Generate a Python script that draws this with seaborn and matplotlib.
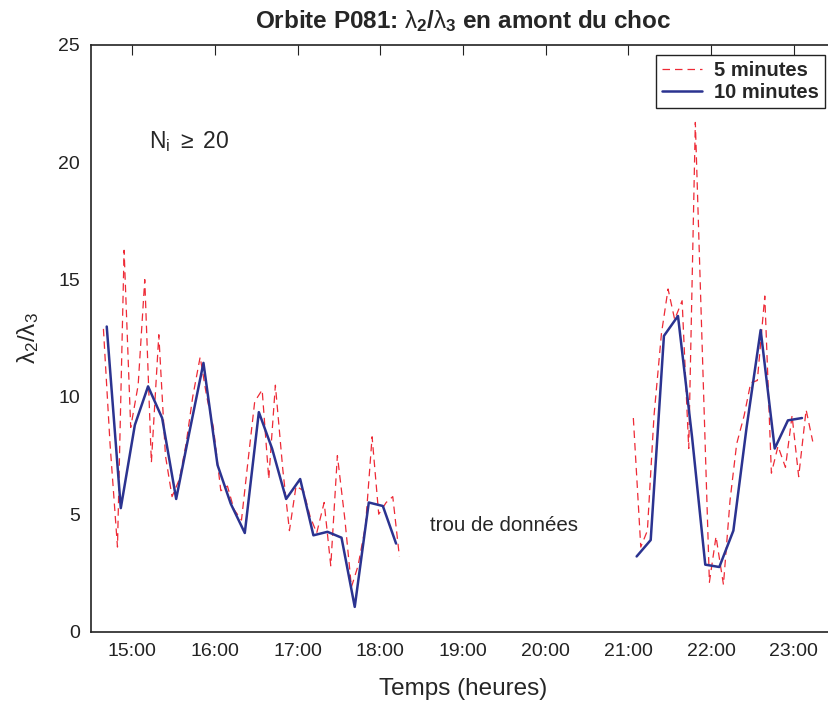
import numpy as np
import pandas as pd
import matplotlib
matplotlib.use('Agg')
import matplotlib.pyplot as plt
import seaborn as sns

# 5 minute values (red dashed), two segments around the data gap
t5_a = [14.65, 14.73, 14.82, 14.90, 14.98, 15.07, 15.15, 15.23, 15.32, 15.40,
        15.48, 15.57, 15.65, 15.73, 15.82, 15.90, 15.98, 16.07, 16.15, 16.23,
        16.32, 16.40, 16.48, 16.57, 16.65, 16.73, 16.82, 16.90, 16.98, 17.07,
        17.15, 17.23, 17.32, 17.40, 17.48, 17.57, 17.65, 17.73, 17.82, 17.90,
        17.98, 18.07, 18.15, 18.23]
r5_a = [12.9, 8.0, 3.6, 16.25, 8.7, 10.5, 15.0, 7.2, 12.65, 7.5,
        5.75, 6.5, 8.0, 10.0, 11.7, 10.0, 8.7, 6.0, 6.2, 5.2,
        4.75, 7.3, 9.8, 10.3, 6.5, 10.5, 6.9, 4.3, 6.2, 6.0,
        4.9, 4.2, 5.5, 2.8, 7.5, 4.8, 1.9, 2.8, 4.5, 8.3,
        5.0, 5.5, 5.75, 3.2]
t5_b = [21.06, 21.15, 21.23, 21.31, 21.40, 21.48, 21.56, 21.65, 21.73, 21.81,
        21.90, 21.98, 22.06, 22.15, 22.23, 22.31, 22.40, 22.48, 22.56, 22.65,
        22.73, 22.81, 22.90, 22.98, 23.06, 23.15, 23.23]
r5_b = [9.1, 3.6, 4.3, 9.2, 12.7, 14.6, 13.3, 14.1, 7.8, 21.7,
        11.3, 2.1, 4.05, 2.0, 5.6, 8.0, 9.2, 10.6, 10.7, 14.3,
        6.75, 7.9, 7.0, 9.2, 6.6, 9.45, 8.1]

# 10 minute values (blue)
t10_a = [14.69, 14.86, 15.03, 15.19, 15.36, 15.53, 15.69, 15.86, 16.03, 16.19,
         16.36, 16.53, 16.69, 16.86, 17.03, 17.19, 17.36, 17.53, 17.69, 17.86,
         18.03, 18.19]
r10_a = [13.0, 5.26, 8.8, 10.45, 9.1, 5.65, 8.5, 11.45, 7.1, 5.45,
         4.2, 9.35, 7.8, 5.65, 6.5, 4.1, 4.25, 4.0, 1.05, 5.5,
         5.35, 3.75]
t10_b = [21.10, 21.27, 21.43, 21.60, 21.77, 21.93, 22.10, 22.27, 22.43, 22.60,
         22.77, 22.93, 23.10]
r10_b = [3.2, 3.9, 12.6, 13.45, 8.3, 2.85, 2.75, 4.3, 8.7, 12.85,
         7.8, 9.0, 9.1]

hour_ticks = [15, 16, 17, 18, 19, 20, 21, 22, 23]
hour_labels = ['15:00', '16:00', '17:00', '18:00', '19:00', '20:00',
               '21:00', '22:00', '23:00']
y_ticks = [0, 5, 10, 15, 20, 25]

sns.set_style('white')
plt.rcParams['font.family'] = ['Liberation Sans', 'DejaVu Sans']
plt.rcParams['mathtext.fontset'] = 'custom'
plt.rcParams['mathtext.rm'] = 'Liberation Sans'
plt.rcParams['mathtext.it'] = 'Liberation Sans'
plt.rcParams['mathtext.bf'] = 'Liberation Sans:bold'

red = '#ee2a36'
blue = '#2b3390'

fig = plt.figure(figsize=(8.29, 7.02), dpi=100)
# right spine falls just outside the picture, as in the reference
ax = fig.add_axes([0.1098, 0.1004, 0.8975, 0.8355])

df5 = pd.concat([pd.DataFrame({'t': t5_a, 'r': r5_a, 'seg': 'a'}),
                 pd.DataFrame({'t': t5_b, 'r': r5_b, 'seg': 'b'})])
df10 = pd.concat([pd.DataFrame({'t': t10_a, 'r': r10_a, 'seg': 'a'}),
                  pd.DataFrame({'t': t10_b, 'r': r10_b, 'seg': 'b'})])

sns.lineplot(data=df5, x='t', y='r', units='seg', estimator=None, ax=ax,
             color=red, linewidth=0.9, sort=False)
sns.lineplot(data=df10, x='t', y='r', units='seg', estimator=None, ax=ax,
             color=blue, linewidth=1.8, sort=False)
for ln in ax.lines[:2]:
    ln.set_dashes((6, 4))

ax.set_xlim(14.5, 23.5)
ax.set_ylim(0, 25)
ax.set_xticks(hour_ticks)
ax.set_xticklabels(hour_labels)
ax.set_yticks(y_ticks)
ax.tick_params(direction='in', top=True, right=False, length=7, width=0.8,
               labelsize=14, colors='#222222', pad=8)
for sp in ax.spines.values():
    sp.set_color('#222222')
    sp.set_linewidth(1.2)

ax.set_xlabel('Temps (heures)', fontsize=17.5, labelpad=13)
ax.set_ylabel(r'$\lambda_2/\lambda_3$', fontsize=17.5, labelpad=12)
ax.set_title(r'Orbite P081: $\lambda_\mathbf{2}$/$\lambda_\mathbf{3}$ en amont du choc',
             fontsize=17.5, fontweight='bold', pad=12)

ax.text(15.2, 20.6, r'N$_\mathrm{i}$ $\geq$ 20', fontsize=16.5)
ax.text(18.6, 4.3, 'trou de données', fontsize=14.8)

handles = [ax.lines[0], ax.lines[2]]
leg = ax.legend(handles, ['5 minutes', '10 minutes'], loc='upper right',
                fancybox=False, edgecolor='#222222', framealpha=1,
                prop={'weight': 'bold', 'size': 14.5}, borderaxespad=0.5,
                handlelength=2.0, labelspacing=0.15, borderpad=0.3,
                handletextpad=0.6)
leg.get_frame().set_linewidth(1.0)

plt.savefig('out.png', dpi=100)
